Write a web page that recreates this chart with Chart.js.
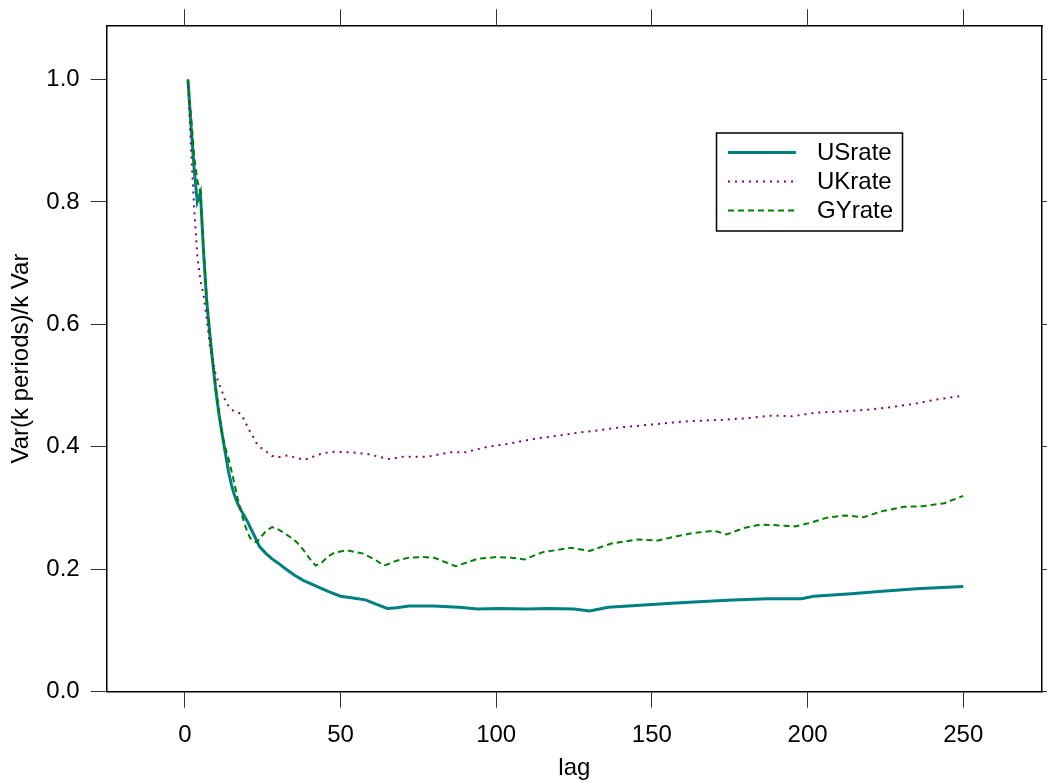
<!DOCTYPE html>
<html>
<head>
<meta charset="utf-8">
<title>Variance ratio by lag</title>
<script src="https://cdn.jsdelivr.net/npm/chart.js"></script>
<style>
  html, body { margin: 0; padding: 0; background: #fff; overflow: hidden; }
  #wrap { width: 1047px; height: 783px; }
</style>
</head>
<body>
<div id="wrap"><canvas id="vrChart" width="1047" height="783"></canvas></div>
<script>
// values
const usLag = [1, 2, 3, 4, 5, 6, 7, 8, 9, 10, 11, 12, 13, 14, 15, 16, 17, 18, 19, 20, 22, 24, 26, 28, 30, 32, 35, 38, 42, 46, 50, 54, 58, 62, 65, 68, 72, 80, 88, 94, 101, 110, 117, 125, 130, 136, 145, 155, 165, 176, 187, 198, 202, 214, 224, 235, 250];
const usRate = [1.0, 0.923, 0.853, 0.80, 0.815, 0.719, 0.639, 0.585, 0.535, 0.49, 0.452, 0.42, 0.39, 0.36, 0.337, 0.32, 0.307, 0.297, 0.288, 0.279, 0.258, 0.237, 0.226, 0.217, 0.21, 0.202, 0.191, 0.182, 0.173, 0.164, 0.156, 0.153, 0.15, 0.142, 0.136, 0.137, 0.14, 0.14, 0.138, 0.135, 0.136, 0.135, 0.136, 0.135, 0.132, 0.138, 0.141, 0.144, 0.147, 0.15, 0.152, 0.152, 0.156, 0.16, 0.164, 0.168, 0.172];

const ukLag = [1, 2, 3, 4, 5, 6, 7, 8, 9, 10, 11, 12, 13, 14, 15, 16, 17, 18, 19, 20, 21, 22, 23, 24, 26, 28, 30, 33, 36, 38, 40, 42, 45, 48, 54, 59, 63, 66, 70, 78, 85, 90, 97, 104, 112, 118, 126, 133, 140, 147, 155, 162, 172, 181, 188, 195, 203, 212, 220, 227, 234, 241, 248, 250];
const ukRate = [1.0, 0.885, 0.79, 0.712, 0.672, 0.648, 0.611, 0.566, 0.537, 0.517, 0.503, 0.49, 0.475, 0.467, 0.461, 0.458, 0.456, 0.454, 0.445, 0.434, 0.424, 0.416, 0.406, 0.40, 0.393, 0.385, 0.383, 0.386, 0.382, 0.379, 0.381, 0.386, 0.39, 0.392, 0.391, 0.388, 0.383, 0.38, 0.384, 0.384, 0.391, 0.391, 0.40, 0.405, 0.413, 0.417, 0.423, 0.427, 0.432, 0.435, 0.439, 0.442, 0.444, 0.447, 0.451, 0.45, 0.456, 0.458, 0.461, 0.465, 0.47, 0.477, 0.482, 0.484];

const gyLag = [1, 2, 3, 4, 5, 6, 7, 8, 9, 10, 11, 12, 13, 14, 15, 16, 17, 18, 19, 20, 21, 22, 23, 24, 26, 28, 30, 32, 34, 36, 38, 40, 42, 44, 46, 48, 52, 57, 61, 64, 68, 72, 76, 80, 87, 94, 100, 105, 109, 115, 124, 130, 137, 145, 152, 158, 163, 170, 174, 180, 185, 190, 196, 201, 206, 212, 218, 224, 231, 237, 244, 250];
const gyRate = [1.0, 0.94, 0.875, 0.835, 0.815, 0.725, 0.645, 0.59, 0.54, 0.495, 0.455, 0.42, 0.398, 0.381, 0.36, 0.338, 0.315, 0.295, 0.277, 0.262, 0.251, 0.246, 0.244, 0.25, 0.262, 0.269, 0.265, 0.259, 0.252, 0.244, 0.232, 0.218, 0.206, 0.211, 0.221, 0.227, 0.231, 0.226, 0.216, 0.206, 0.214, 0.219, 0.22, 0.219, 0.205, 0.217, 0.22, 0.219, 0.216, 0.228, 0.235, 0.23, 0.242, 0.2485, 0.247, 0.254, 0.259, 0.263, 0.257, 0.268, 0.273, 0.272, 0.27, 0.276, 0.284, 0.288, 0.285, 0.295, 0.302, 0.303, 0.308, 0.32];

const xTicks = [0, 50, 100, 150, 200, 250];
const yTicks = [0, 0.2, 0.4, 0.6, 0.8, 1.0];

const toPoints = (xs, ys) => xs.map((x, i) => ({ x: x, y: ys[i] }));

Chart.defaults.font.family = "'Liberation Sans', Arial, sans-serif";
Chart.defaults.font.size = 24;
Chart.defaults.color = "#000";

// lattice-like legend box inside the panel
const boxLegend = {
  id: "boxLegend",
  afterDraw(chart) {
    const ctx = chart.ctx;
    ctx.save();
    ctx.strokeStyle = "#000";
    ctx.lineWidth = 1.5;
    ctx.strokeRect(716.5, 133, 186, 98);
    ctx.font = "24px 'Liberation Sans', Arial, sans-serif";
    ctx.textBaseline = "middle";
    ctx.textAlign = "left";
    chart.data.datasets.forEach((ds, i) => {
      const y = 152.5 + i * 29;
      ctx.beginPath();
      ctx.setLineDash(ds.borderDash || []);
      ctx.strokeStyle = ds.borderColor;
      ctx.lineWidth = ds.borderWidth;
      ctx.moveTo(728, y);
      ctx.lineTo(796, y);
      ctx.stroke();
      ctx.setLineDash([]);
      ctx.fillStyle = "#000";
      ctx.fillText(ds.label, 817, y + 1);
    });
    ctx.restore();
  }
};

const gridOpts = (len) => ({ drawOnChartArea: false, drawTicks: true, tickLength: len, color: "#333", lineWidth: 1 });
const borderOpts = { display: true, color: "#000", width: 1.5 };
const setX = s => { s.ticks = xTicks.map(v => ({ value: v })); };
const setY = s => { s.ticks = yTicks.map(v => ({ value: v })); };

const ctxVr = document.getElementById("vrChart").getContext("2d");
new Chart(ctxVr, {
  type: "line",
  data: {
    datasets: [
      { label: "USrate", data: toPoints(usLag, usRate), borderColor: "#008080", borderWidth: 3, pointRadius: 0, fill: false, tension: 0, order: 3 },
      { label: "UKrate", data: toPoints(ukLag, ukRate), borderColor: "#800080", borderWidth: 2, borderDash: [2, 5], pointRadius: 0, fill: false, tension: 0, order: 2 },
      { label: "GYrate", data: toPoints(gyLag, gyRate), borderColor: "#008000", borderWidth: 2, borderDash: [6, 4], pointRadius: 0, fill: false, tension: 0, order: 1 }
    ]
  },
  options: {
    responsive: false,
    animation: false,
    devicePixelRatio: 1,
    layout: { padding: { top: 8, left: 0, right: 0, bottom: 0 } },
    plugins: {
      legend: { display: false },
      tooltip: { enabled: false }
    },
    scales: {
      x: {
        type: "linear", position: "bottom", min: -25.1, max: 275.3,
        afterBuildTicks: setX,
        afterFit: s => { s.height = 91.3; },
        ticks: { padding: 13 },
        grid: gridOpts(16), border: borderOpts,
        title: { display: true, text: "lag", padding: { top: 5, bottom: 0 } }
      },
      x2: {
        type: "linear", position: "top", min: -25.1, max: 275.3,
        afterBuildTicks: setX,
        ticks: { display: false },
        grid: gridOpts(16), border: borderOpts
      },
      y: {
        type: "linear", position: "left", min: 0, max: 1.0885,
        afterBuildTicks: setY,
        afterFit: s => { s.width = 106.7; },
        ticks: { padding: 11, callback: v => v.toFixed(1) },
        grid: gridOpts(16), border: borderOpts,
        title: { display: true, text: "Var(k periods)/k Var", padding: { top: 7, bottom: 10.5 } }
      },
      y2: {
        type: "linear", position: "right", min: 0, max: 1.0885,
        afterBuildTicks: setY,
        ticks: { display: false },
        grid: gridOpts(5), border: borderOpts
      }
    }
  },
  plugins: [boxLegend]
});
</script>
</body>
</html>
